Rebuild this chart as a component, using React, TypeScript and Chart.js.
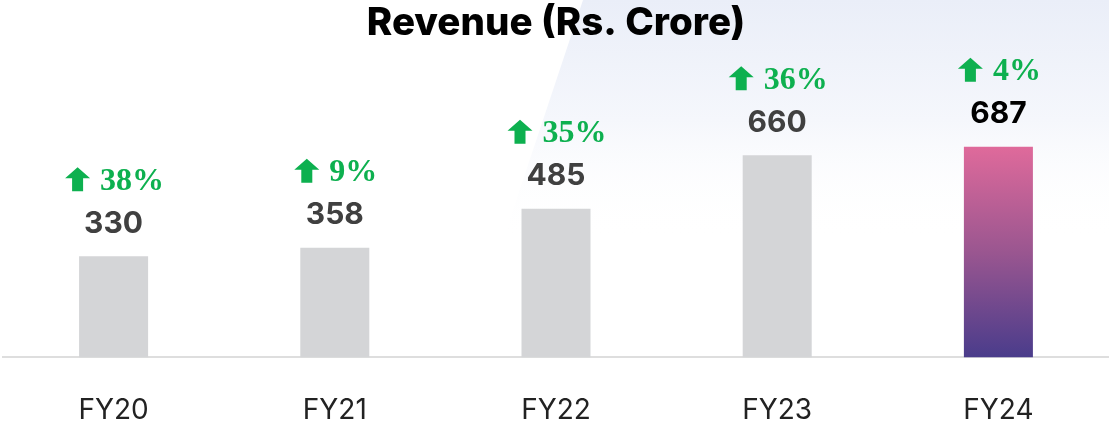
import React, { useEffect, useRef } from "react";
import { Chart, registerables } from "chart.js";

Chart.register(...registerables);

const categories = ["FY20", "FY21", "FY22", "FY23", "FY24"];
const revenue = [330, 358, 485, 660, 687];
const growth = ["38%", "9%", "35%", "36%", "4%"];
const titleText = "Revenue (Rs. Crore)";

const GREEN = "#0db04f";

const backgroundPlugin = {
  id: "bgShape",
  beforeDraw(chart: any) {
    const { ctx, width, height } = chart;
    ctx.save();
    ctx.fillStyle = "#ffffff";
    ctx.fillRect(0, 0, width, height);
    const g = ctx.createLinearGradient(0, 0, 0, 240);
    g.addColorStop(0, "#eaeef8");
    g.addColorStop(0.5, "#f5f7fc");
    g.addColorStop(1, "rgba(255,255,255,0)");
    ctx.fillStyle = g;
    ctx.beginPath();
    ctx.moveTo(583, 0);
    ctx.lineTo(width, 0);
    ctx.lineTo(width, height);
    ctx.lineTo(583 - height / 3, height);
    ctx.closePath();
    ctx.fill();
    ctx.restore();
  },
};

const labelPlugin = {
  id: "barLabels",
  afterDatasetsDraw(chart: any) {
    const { ctx } = chart;
    const meta = chart.getDatasetMeta(0);
    ctx.save();
    meta.data.forEach((bar: any, i: number) => {
      const x = bar.x;
      const top = bar.y;
      // value label
      const vc = top - 34.5;
      ctx.font = "700 30px Inter";
      ctx.textAlign = "center";
      ctx.textBaseline = "alphabetic";
      ctx.fillStyle = i === revenue.length - 1 ? "#000000" : "#404040";
      ctx.fillText(String(revenue[i]), x, vc + 11);
      // growth label
      const gc = top - 77;
      ctx.font = "bold 32px 'Liberation Serif'";
      const tw = ctx.measureText(growth[i]).width;
      const aw = 25;
      const gap = 10;
      const total = aw + gap + tw;
      const sx = x - total / 2 + 1;
      ctx.fillStyle = GREEN;
      ctx.beginPath();
      ctx.moveTo(sx, gc - 1);
      ctx.lineTo(sx + aw / 2, gc - 12);
      ctx.lineTo(sx + aw, gc - 1);
      ctx.lineTo(sx + 18, gc - 1);
      ctx.lineTo(sx + 18, gc + 12);
      ctx.lineTo(sx + 7, gc + 12);
      ctx.lineTo(sx + 7, gc - 1);
      ctx.closePath();
      ctx.fill();
      ctx.textAlign = "left";
      ctx.fillText(growth[i], sx + aw + gap, gc + 10.5);
    });
    ctx.restore();
  },
};

export default function App() {
  const ref = useRef<HTMLCanvasElement>(null);
  useEffect(() => {
    if (!ref.current) return;
    const chart = new Chart(ref.current, {
      type: "bar",
      data: {
        labels: categories,
        datasets: [
          {
            data: revenue,
            backgroundColor: (c: any) => {
              const last = c.dataIndex === revenue.length - 1;
              if (!last) return "#d4d5d7";
              const area = c.chart.chartArea;
              const yScale = c.chart.scales && c.chart.scales.y;
              if (!area || !yScale) return "#b05a94";
              let topY = yScale.getPixelForValue(revenue[c.dataIndex]);
              if (!isFinite(topY)) topY = area.top;
              const bottom = isFinite(area.bottom) ? area.bottom : topY + 1;
              const g = c.chart.ctx.createLinearGradient(0, topY, 0, bottom);
              g.addColorStop(0, "#df6a9b");
              g.addColorStop(0.5, "#9a5690");
              g.addColorStop(1, "#4a3c8b");
              return g;
            },
            borderWidth: 0,
            categoryPercentage: 1,
            barPercentage: 0.312,
          },
        ],
      },
      options: {
        responsive: false,
        animation: false,
        layout: { padding: { left: 3, right: 0, top: 0, bottom: -35 } },
        plugins: {
          legend: { display: false },
          tooltip: { enabled: false },
          title: {
            display: true,
            text: titleText,
            color: "#000000",
            font: { family: "Inter", size: 38.5, weight: 800 as any },
            padding: { top: 0, bottom: 35.4 },
          },
        },
        scales: {
          x: {
            grid: { display: false, drawTicks: false },
            border: { display: true, color: "#dedede", width: 2 },
            ticks: {
              color: "#222222",
              font: { family: "Inter", size: 28, weight: 400 as any },
              padding: 36,
            },
          },
          y: { display: false, min: 0, max: 900 },
        },
      },
      plugins: [backgroundPlugin, labelPlugin],
    });
    return () => chart.destroy();
  }, []);
  return (
    <div style={{ position: "absolute", left: 0, top: 0, width: 1109, height: 428 }}>
      <canvas ref={ref} width={1109} height={428} style={{ display: "block" }} />
    </div>
  );
}
